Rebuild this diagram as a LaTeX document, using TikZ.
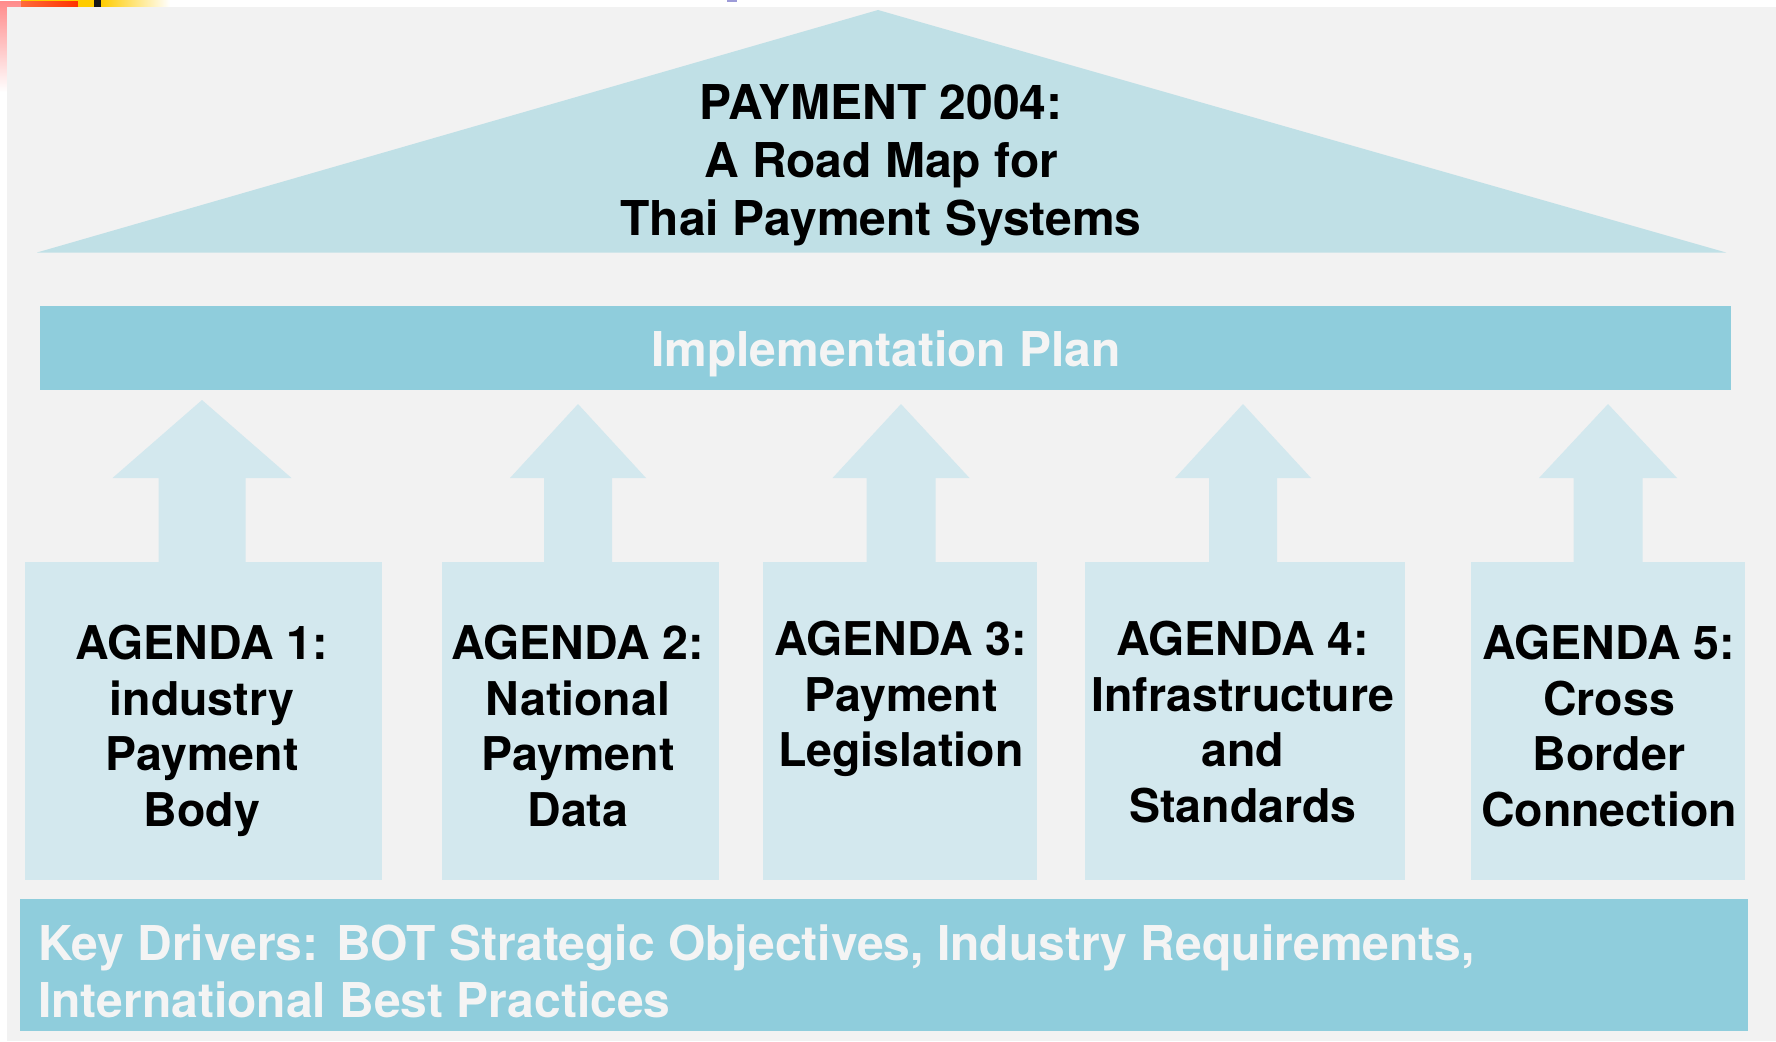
\documentclass[tikz,border=0pt]{standalone}
\usepackage{fontspec}
\setmainfont{TeX Gyre Heros}
\definecolor{bgpanel}{HTML}{F2F2F2}
\definecolor{roofc}{HTML}{C0E0E6}
\definecolor{barc}{HTML}{8FCDDC}
\definecolor{palec}{HTML}{D3E8EE}
\definecolor{bartxt}{HTML}{F4F4F4}
\definecolor{decopink}{HTML}{FF8C8C}
\definecolor{decoorange}{HTML}{FF6A3A}
\definecolor{decored}{HTML}{FF3300}
\definecolor{decoyellow}{HTML}{FFCC00}
\definecolor{decopurple}{HTML}{9D9BD8}
\tikzset{
  panel/.style={fill=palec, draw=none, inner sep=0pt, outer sep=0pt},
  barbox/.style={fill=barc, draw=none, inner sep=0pt, outer sep=0pt},
  agtext/.style={anchor=north, inner sep=0pt, align=center, text=black,
    font=\fontsize{46.5}{55.5}\selectfont\bfseries},
  titletext/.style={anchor=north, inner sep=0pt, align=center, text=black,
    font=\fontsize{48}{58}\selectfont\bfseries},
  bartext/.style={inner sep=0pt, text=bartxt, font=\fontsize{48}{57}\selectfont\bfseries},
  blockarrow/.style={fill=palec, draw=none}
}
\begin{document}
\begin{tikzpicture}[x=1pt,y=-1pt]
\useasboundingbox (0,0) rectangle (1776,1041);
\fill[white] (0,0) rectangle (1776,1041);
% top-left decoration
\shade[top color=decopink, bottom color=white] (0,2) rectangle (78,92);
\fill[decoyellow] (21,0) rectangle (94,2);
\shade[left color=decoorange, right color=decored] (21,2) rectangle (78,7);
\fill[decoyellow] (78,0) rectangle (94,7);
\fill[black!90] (94,0) rectangle (101,7);
\shade[left color=decoyellow, right color=white] (101,0) rectangle (170,7);
\fill[decopurple] (727,0) rectangle (737,2);
% grey panel
\fill[bgpanel] (7,7) rectangle (1776,1041);
% roof
\fill[roofc] (37,252.5) -- (878,10) -- (1726,252.5) -- cycle;
\node[titletext] (title) at (881,84) {PAYMENT 2004:\\A Road Map for\\Thai Payment Systems};
% implementation plan bar
\node[barbox, minimum width=1691.5pt, minimum height=84pt] (impl) at (885.25,348) {};
\node[bartext] (impltext) at (886,354) {Implementation Plan};
% block arrows
\foreach \ax/\ay/\hh/\sh in {202/400/89.5/43.5, 578/404/68/34, 901/404/68.5/34.5, 1243/404/68/34, 1608/404/69/34.5}{
  \fill[blockarrow] (\ax,\ay) -- (\ax+\hh,478) -- (\ax+\sh,478) -- (\ax+\sh,562.5)
     -- (\ax-\sh,562.5) -- (\ax-\sh,478) -- (\ax-\hh,478) -- cycle;
}
% agenda boxes
\node[panel, minimum width=357pt, minimum height=318pt] (a1) at (203.5,721) {};
\node[panel, minimum width=277pt, minimum height=318pt] (a2) at (580.5,721) {};
\node[panel, minimum width=274pt, minimum height=318pt] (a3) at (900,721) {};
\node[panel, minimum width=320pt, minimum height=318pt] (a4) at (1245,721) {};
\node[panel, minimum width=274pt, minimum height=318pt] (a5) at (1608,721) {};
\node[agtext] (t1) at (202,625) {AGENDA 1:\\industry\\Payment\\Body};
\node[agtext] (t2) at (578,625) {AGENDA 2:\\National\\Payment\\Data};
\node[agtext] (t3) at (901,621) {AGENDA 3:\\Payment\\Legislation};
\node[agtext] (t4) at (1243,621) {AGENDA 4:\\Infrastructure\\and\\Standards};
\node[agtext] (t5) at (1609,625) {AGENDA 5:\\Cross\\Border\\Connection};
% key drivers bar
\node[barbox, minimum width=1728pt, minimum height=132pt] (keyd) at (884,965) {};
\node[bartext, anchor=north west, align=left] (keytext) at (38,925)
  {Key Drivers: BOT Strategic Objectives, Industry Requirements,\\International Best Practices};
\end{tikzpicture}
\end{document}
